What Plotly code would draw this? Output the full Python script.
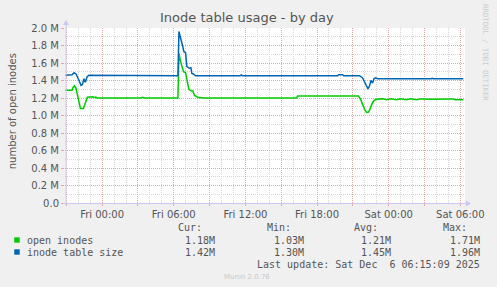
import plotly.graph_objects as go

# ---------------- data (values in millions) ----------------
open_t = ["2025-12-04 20:55", "2025-12-04 21:29", "2025-12-04 21:34", "2025-12-04 21:41", "2025-12-04 21:49",
          "2025-12-04 21:59", "2025-12-04 22:06", "2025-12-04 22:11", "2025-12-04 22:26", "2025-12-04 22:34",
          "2025-12-04 22:41", "2025-12-04 22:46", "2025-12-04 23:14", "2025-12-04 23:19", "2025-12-04 23:29",
          "2025-12-04 23:34", "2025-12-05 03:14", "2025-12-05 03:19", "2025-12-05 03:29", "2025-12-05 03:34",
          "2025-12-05 06:21", "2025-12-05 06:26", "2025-12-05 06:34", "2025-12-05 06:41", "2025-12-05 06:49",
          "2025-12-05 06:59", "2025-12-05 07:09", "2025-12-05 07:16", "2025-12-05 07:29", "2025-12-05 07:36",
          "2025-12-05 07:44", "2025-12-05 07:54", "2025-12-05 08:04", "2025-12-05 08:34", "2025-12-05 16:17",
          "2025-12-05 16:22", "2025-12-05 21:28", "2025-12-05 21:38", "2025-12-05 21:49", "2025-12-05 21:59",
          "2025-12-05 22:09", "2025-12-05 22:19", "2025-12-05 22:29", "2025-12-05 22:39", "2025-12-05 22:49",
          "2025-12-05 22:59", "2025-12-05 23:30", "2025-12-05 23:50", "2025-12-06 00:10", "2025-12-06 00:40",
          "2025-12-06 01:00", "2025-12-06 01:30", "2025-12-06 01:50", "2025-12-06 02:20", "2025-12-06 02:40",
          "2025-12-06 03:40", "2025-12-06 05:25", "2025-12-06 05:35", "2025-12-06 06:15"]
open_v = [1.29, 1.29, 1.32, 1.34, 1.31,
          1.22, 1.15, 1.08, 1.08, 1.13,
          1.17, 1.21, 1.215, 1.205, 1.21,
          1.20, 1.20, 1.206, 1.206, 1.20,
          1.20, 1.71, 1.62, 1.56, 1.50,
          1.49, 1.39, 1.30, 1.28, 1.28,
          1.23, 1.215, 1.205, 1.20, 1.20,
          1.222, 1.222, 1.19, 1.12, 1.07,
          1.035, 1.04, 1.09, 1.15, 1.175,
          1.185, 1.19, 1.18, 1.19, 1.18,
          1.19, 1.18, 1.19, 1.18, 1.19,
          1.185, 1.19, 1.18, 1.18]

table_t = ["2025-12-04 20:55", "2025-12-04 21:29", "2025-12-04 21:39", "2025-12-04 21:49", "2025-12-04 22:04",
           "2025-12-04 22:14", "2025-12-04 22:21", "2025-12-04 22:29", "2025-12-04 22:36", "2025-12-04 22:44",
           "2025-12-04 22:54", "2025-12-04 23:24", "2025-12-04 23:29", "2025-12-05 03:18", "2025-12-05 03:23",
           "2025-12-05 03:28", "2025-12-05 06:21", "2025-12-05 06:26", "2025-12-05 06:34", "2025-12-05 06:44",
           "2025-12-05 06:51", "2025-12-05 06:59", "2025-12-05 07:06", "2025-12-05 07:19", "2025-12-05 07:26",
           "2025-12-05 07:31", "2025-12-05 07:39", "2025-12-05 07:49", "2025-12-05 11:34", "2025-12-05 11:39",
           "2025-12-05 11:44", "2025-12-05 15:04", "2025-12-05 15:09", "2025-12-05 15:14", "2025-12-05 19:44",
           "2025-12-05 19:49", "2025-12-05 20:09", "2025-12-05 20:14", "2025-12-05 21:34", "2025-12-05 21:49",
           "2025-12-05 21:59", "2025-12-05 22:09", "2025-12-05 22:16", "2025-12-05 22:24", "2025-12-05 22:31",
           "2025-12-05 22:39", "2025-12-05 22:46", "2025-12-05 22:54", "2025-12-05 23:04", "2025-12-06 03:34",
           "2025-12-06 03:39", "2025-12-06 03:44", "2025-12-06 04:04", "2025-12-06 04:09", "2025-12-06 04:14",
           "2025-12-06 06:15"]
table_v = [1.46, 1.465, 1.49, 1.475, 1.40,
           1.345, 1.355, 1.42, 1.38, 1.44,
           1.46, 1.46, 1.455, 1.455, 1.462,
           1.455, 1.455, 1.96, 1.87, 1.80,
           1.73, 1.72, 1.56, 1.54, 1.545,
           1.48, 1.475, 1.455, 1.455, 1.463,
           1.455, 1.455, 1.463, 1.455, 1.455,
           1.465, 1.465, 1.455, 1.455, 1.43,
           1.38, 1.33, 1.305, 1.34, 1.40,
           1.37, 1.42, 1.43, 1.42, 1.42,
           1.426, 1.42, 1.42, 1.427, 1.42,
           1.42]

series_names = ["open inodes", "inode table size"]
series_colors = ["#00cc00", "#0066b3"]
stat_headers = ["Cur:", "Min:", "Avg:", "Max:"]
stats = [["1.18M", "1.03M", "1.21M", "1.71M"],
         ["1.42M", "1.30M", "1.45M", "1.96M"]]

y_tickvals = [0.0, 0.2, 0.4, 0.6, 0.8, 1.0, 1.2, 1.4, 1.6, 1.8, 2.0]
y_ticktext = ["0.0", "0.2 M", "0.4 M", "0.6 M", "0.8 M", "1.0 M", "1.2 M", "1.4 M", "1.6 M", "1.8 M", "2.0 M"]
x_tickvals = ["2025-12-04 21:00", "2025-12-05 00:00", "2025-12-05 03:00", "2025-12-05 06:00", "2025-12-05 09:00",
              "2025-12-05 12:00", "2025-12-05 15:00", "2025-12-05 18:00", "2025-12-05 21:00", "2025-12-06 00:00",
              "2025-12-06 03:00", "2025-12-06 06:00"]
x_ticktext = ["", "Fri 00:00", "", "Fri 06:00", "", "Fri 12:00", "", "Fri 18:00", "", "Sat 00:00", "", "Sat 06:00"]

title = "Inode table usage - by day"
y_title = "number of open inodes"
last_update = "Last update: Sat Dec \u00a06 06:15:09 2025"
footer = "Munin 2.0.76"
side_text = "RRDTOOL / TOBI OETIKER"

# ---------------- layout geometry ----------------
W, H = 497, 287
L, R, T, B = 65, 30, 28, 84
PW, PH = W - L - R, H - T - B


def px(x):
    return (x - L) / PW


def py(y):
    return (H - B - y) / PH


TXT = "#555555"
MAJ = "#eaa6a6"
MIN = "#d6d6d6"
DASH = "1px,1px"

fig = go.Figure()
fig.add_trace(go.Scatter(x=open_t, y=open_v, mode="lines", line=dict(color=series_colors[0], width=1.5),
                         showlegend=False, hoverinfo="skip"))
fig.add_trace(go.Scatter(x=table_t, y=table_v, mode="lines", line=dict(color=series_colors[1], width=1.5),
                         showlegend=False, hoverinfo="skip"))

fig.update_layout(
    width=W, height=H, margin=dict(l=L, r=R, t=T, b=B),
    paper_bgcolor="#f0f0f0", plot_bgcolor="#ffffff",
    font=dict(family="DejaVu Sans", size=10, color=TXT),
    showlegend=False,
)
fig.update_xaxes(
    type="date", range=["2025-12-04 20:53:30", "2025-12-06 06:23:30"],
    tickmode="array", tickvals=x_tickvals, ticktext=x_ticktext,
    showgrid=True, gridcolor=MAJ, griddash=DASH, gridwidth=1,
    ticks="outside", ticklen=2, tickcolor=MAJ,
    minor=dict(dtick=3600000, tick0="2025-12-05 00:00", showgrid=True, gridcolor=MIN,
               griddash=DASH, gridwidth=1),
    showline=False, zeroline=False, tickfont=dict(size=10, color=TXT),
)
fig.update_yaxes(
    range=[0, 2.0], tickmode="array", tickvals=y_tickvals, ticktext=y_ticktext,
    showgrid=True, gridcolor=MAJ, griddash=DASH, gridwidth=1,
    ticks="outside", ticklen=3, tickcolor=MAJ,
    minor=dict(dtick=0.1, tick0=0, showgrid=True, gridcolor=MIN, griddash=DASH, gridwidth=1),
    showline=False, zeroline=False, tickfont=dict(size=10, color=TXT),
)

axis_col = "#c8c8f0"
shapes = [
    dict(type="line", xref="paper", yref="paper", x0=px(66), x1=px(66), y0=py(205), y1=py(24),
         line=dict(color=axis_col, width=1)),
    dict(type="line", xref="paper", yref="paper", x0=px(63), x1=px(468), y0=py(203.5), y1=py(203.5),
         line=dict(color=axis_col, width=1)),
    dict(type="path", xref="paper", yref="paper",
         path=f"M {px(63)} {py(25)} L {px(69)} {py(25)} L {px(66)} {py(20)} Z",
         fillcolor=axis_col, line=dict(color=axis_col, width=0)),
    dict(type="path", xref="paper", yref="paper",
         path=f"M {px(468)} {py(200.5)} L {px(468)} {py(206.5)} L {px(473)} {py(203.5)} Z",
         fillcolor=axis_col, line=dict(color=axis_col, width=0)),
]
# legend squares
for i, c in enumerate(series_colors):
    yc = 240 + 12 * i
    shapes.append(dict(type="rect", xref="paper", yref="paper", x0=px(14), x1=px(19.5),
                       y0=py(yc + 2.7), y1=py(yc - 2.7), fillcolor=c, line=dict(width=0)))
fig.update_layout(shapes=shapes)

MONO = dict(family="DejaVu Sans Mono", size=10, color=TXT)
ann = []
ann.append(dict(text=title, x=px(248), y=py(18), xref="paper", yref="paper", showarrow=False,
                xanchor="center", yanchor="middle", font=dict(family="DejaVu Sans", size=13, color=TXT)))
ann.append(dict(text=y_title, x=px(12), y=py(111), xref="paper", yref="paper", showarrow=False,
                textangle=-90, xanchor="center", yanchor="middle",
                font=dict(family="DejaVu Sans", size=10, color=TXT)))
ann.append(dict(text=side_text, x=px(488), y=py(53), xref="paper", yref="paper", showarrow=False,
                textangle=90, xanchor="center", yanchor="middle",
                font=dict(family="DejaVu Sans Mono", size=7.3, color="#cccccc")))
head_right = [204, 293, 381, 470]
val_right = [217, 306, 394, 483]
for h, xr in zip(stat_headers, head_right):
    ann.append(dict(text=h, x=px(xr), y=py(227.5), xref="paper", yref="paper", showarrow=False,
                    xanchor="right", yanchor="middle", borderpad=0, font=MONO))
for i, name in enumerate(series_names):
    yc = 240 + 12 * i
    ann.append(dict(text=name, x=px(26), y=py(yc), xref="paper", yref="paper", showarrow=False,
                    xanchor="left", yanchor="middle", borderpad=0, font=MONO))
    for v, xr in zip(stats[i], val_right):
        ann.append(dict(text=v, x=px(xr), y=py(yc), xref="paper", yref="paper", showarrow=False,
                        xanchor="right", yanchor="middle", borderpad=0, font=MONO))
ann.append(dict(text=last_update, x=px(483), y=py(264), xref="paper", yref="paper", showarrow=False,
                xanchor="right", yanchor="middle", borderpad=0, font=MONO))
ann.append(dict(text=footer, x=px(248), y=py(277), xref="paper", yref="paper", showarrow=False,
                xanchor="center", yanchor="middle", font=dict(family="DejaVu Sans", size=7, color="#c8c8c8")))
fig.update_layout(annotations=ann)

fig.write_html("out.html")
